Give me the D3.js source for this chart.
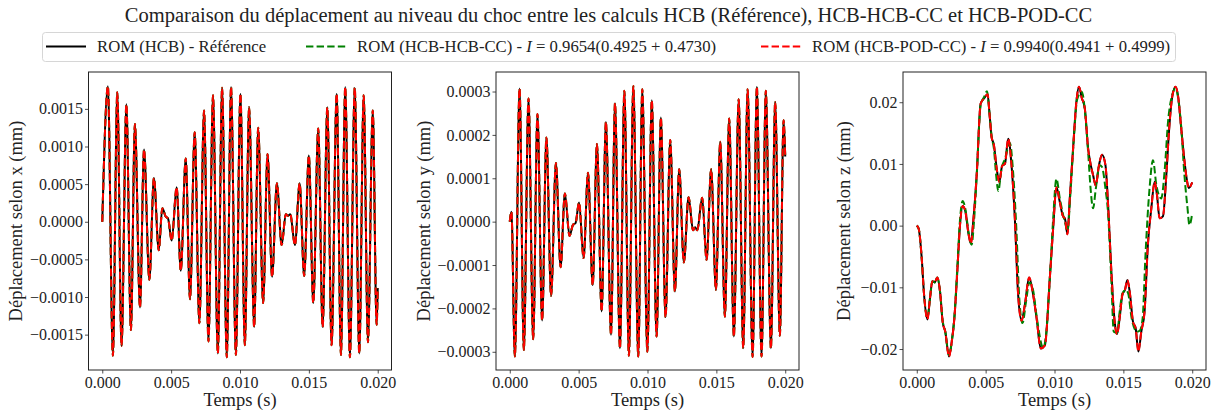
<!DOCTYPE html>
<html><head><meta charset="utf-8">
<script src="https://cdn.jsdelivr.net/npm/d3@7"></script>
<style>
html,body{margin:0;padding:0;background:#fff;}
svg text{font-family:"Liberation Serif","DejaVu Serif",serif;fill:#222;}
</style></head>
<body><svg id="c" width="1217" height="414"></svg>
<script>
// ---------- DATA ----------
const titleText = "Comparaison du déplacement au niveau du choc entre les calculs HCB (Référence), HCB-HCB-CC et HCB-POD-CC";
const seriesNames = ["ROM (HCB) - Référence", "ROM (HCB-HCB-CC) - ", "ROM (HCB-POD-CC) - "];
const seriesIndex = ["", " = 0.9654(0.4925 + 0.4730)", " = 0.9940(0.4941 + 0.4999)"];
const xTickValues = [0, 0.005, 0.010, 0.015, 0.020];
const yTicksX = [-0.0015, -0.0010, -0.0005, 0, 0.0005, 0.0010, 0.0015];
const yTicksY = [-0.0003, -0.0002, -0.0001, 0, 0.0001, 0.0002, 0.0003];
const yTicksZ = [-0.02, -0.01, 0, 0.01, 0.02];
const yLabels = ["Déplacement selon x (mm)", "Déplacement selon y (mm)", "Déplacement selon z (mm)"];

// displacement x : [time (s), value (mm)]
const dispX = [
[0,0],[0.00041,0.00180],[0.00077,-0.00178],[0.00109,0.00172],[0.00140,-0.00165],[0.00175,0.00156],
[0.00208,-0.00144],[0.00237,0.00130],[0.00274,-0.00114],[0.00303,0.00096],[0.00342,-0.00077],
[0.00375,0.00058],[0.00410,-0.00038],[0.00436,0.00018],[0.00460,0.00007],[0.00478,0.00004],
[0.00504,-0.00025],[0.00540,0.00046],[0.00570,-0.00065],[0.00606,0.00084],[0.00637,-0.00103],
[0.00671,0.00119],[0.00705,-0.00135],[0.00739,0.00148],[0.00771,-0.00159],[0.00804,0.00168],
[0.00839,-0.00175],[0.00870,0.00178],[0.00904,-0.00180],[0.00935,0.00179],[0.00970,-0.00177],
[0.01003,0.00170],[0.01035,-0.00164],[0.01066,0.00152],[0.01103,-0.00140],[0.01132,0.00125],
[0.01168,-0.00108],[0.01200,0.00090],[0.01233,-0.00073],[0.01268,0.00051],[0.01302,-0.00031],
[0.01333,0.00010],[0.01349,0.00008],[0.01365,0.00010],[0.01399,-0.00031],[0.01433,0.00051],
[0.01466,-0.00072],[0.01500,0.00088],[0.01532,-0.00108],[0.01568,0.00124],[0.01600,-0.00140],
[0.01634,0.00152],[0.01665,-0.00164],[0.01702,0.00170],[0.01733,-0.00177],[0.01764,0.00179],
[0.01798,-0.00180],[0.01833,0.00178],[0.01866,-0.00175],[0.01898,0.00168],[0.01929,-0.00160],
[0.01964,0.00148],[0.01992,-0.00137],[0.02000,-0.00088]];

// displacement y
const dispY = [
[0,0],[0.00012,0.000023],[0.00037,-0.000311],[0.00071,0.000307],[0.00102,-0.000296],[0.00136,0.000284],
[0.00170,-0.000271],[0.00201,0.000248],[0.00235,-0.000228],[0.00266,0.000194],[0.00300,-0.000171],
[0.00335,0.000135],[0.00369,-0.000105],[0.00400,0.000065],[0.00434,-0.000033],[0.00458,-0.000008],
[0.00478,-0.000003],[0.00503,0.000044],[0.00536,-0.000084],[0.00568,0.000113],[0.00602,-0.000146],
[0.00633,0.000179],[0.00667,-0.000207],[0.00698,0.000230],[0.00735,-0.000261],[0.00764,0.000273],
[0.00800,-0.000292],[0.00832,0.000302],[0.00865,-0.000309],[0.00897,0.000313],[0.00933,-0.000311],
[0.00962,0.000305],[0.00999,-0.000300],[0.01031,0.000280],[0.01066,-0.000265],[0.01097,0.000240],
[0.01131,-0.000220],[0.01165,0.000188],[0.01199,-0.000161],[0.01230,0.000121],[0.01264,-0.000094],
[0.01298,0.000056],[0.01331,-0.000020],[0.01346,-0.000013],[0.01361,-0.000020],[0.01397,0.000055],
[0.01429,-0.000088],[0.01462,0.000121],[0.01497,-0.000157],[0.01528,0.000184],[0.01562,-0.000219],
[0.01593,0.000238],[0.01627,-0.000265],[0.01662,0.000282],[0.01695,-0.000292],[0.01727,0.000305],
[0.01763,-0.000312],[0.01794,0.000311],[0.01828,-0.000311],[0.01859,0.000302],[0.01896,-0.000292],
[0.01927,0.000276],[0.01961,-0.000263],[0.01988,0.000234],[0.02000,0.000150]];

// displacement z, reference (HCB) and HCB-POD-CC
const dispZRef = [
[0,0],[0.00014,-0.0005],[0.00036,-0.0053],[0.00053,-0.0112],[0.00077,-0.0152],[0.00096,-0.0118],
[0.00113,-0.0090],[0.00130,-0.0092],[0.00149,-0.0084],[0.00169,-0.0107],[0.00188,-0.0156],
[0.00207,-0.0172],[0.00234,-0.0212],[0.00254,-0.0188],[0.00273,-0.0150],[0.00294,-0.0075],
[0.00314,0.0001],[0.00333,0.0032],[0.00352,0.0024],[0.00377,-0.0015],[0.00393,-0.0029],
[0.00410,0.0007],[0.00435,0.0082],[0.00464,0.0198],[0.00488,0.0206],[0.00514,0.0213],
[0.00529,0.0179],[0.00543,0.0144],[0.00560,0.0131],[0.00580,0.0093],[0.00599,0.0071],
[0.00620,0.0097],[0.00640,0.0100],[0.00664,0.0141],[0.00688,0.0098],[0.00712,0.0012],
[0.00736,-0.0112],[0.00761,-0.0154],[0.00785,-0.0128],[0.00816,-0.0084],[0.00845,-0.0112],
[0.00870,-0.0150],[0.00900,-0.0199],[0.00930,-0.0194],[0.00966,-0.0085],[0.00990,-0.0005],
[0.01014,0.0062],[0.01038,0.0039],[0.01060,0.0016],[0.01076,0.0011],[0.01094,-0.0014],
[0.01111,0.0044],[0.01135,0.0125],[0.01159,0.0201],[0.01178,0.0225],[0.01198,0.0207],
[0.01220,0.0190],[0.01244,0.0125],[0.01261,0.0101],[0.01280,0.0082],[0.01299,0.0065],
[0.01323,0.0098],[0.01345,0.0115],[0.01370,0.0098],[0.01389,0.0034],[0.01413,-0.0075],
[0.01437,-0.0156],[0.01454,-0.0176],[0.01473,-0.0150],[0.01493,-0.0112],[0.01512,-0.0104],
[0.01529,-0.0088],[0.01546,-0.0107],[0.01570,-0.0156],[0.01589,-0.0166],[0.01609,-0.0204],
[0.01630,-0.0172],[0.01654,-0.0139],[0.01678,-0.0031],[0.01703,0.0028],[0.01727,0.0071],
[0.01744,0.0050],[0.01763,0.0012],[0.01787,0.0015],[0.01812,0.0082],[0.01831,0.0152],
[0.01855,0.0209],[0.01879,0.0225],[0.01899,0.0207],[0.01920,0.0158],[0.01944,0.0104],
[0.01961,0.0074],[0.01975,0.0061],[0.02000,0.0070]];

// displacement z, HCB-HCB-CC
const dispZHcb = [
[0,0],[0.00014,-0.0005],[0.00036,-0.0053],[0.00053,-0.0112],[0.00077,-0.0150],[0.00096,-0.0118],
[0.00113,-0.0090],[0.00130,-0.0092],[0.00149,-0.0084],[0.00169,-0.0107],[0.00188,-0.0154],
[0.00207,-0.0172],[0.00234,-0.0210],[0.00254,-0.0188],[0.00273,-0.0148],[0.00294,-0.0070],
[0.00314,0.0010],[0.00333,0.0040],[0.00352,0.0028],[0.00377,-0.0012],[0.00398,-0.0031],
[0.00415,0.0005],[0.00435,0.0080],[0.00464,0.0196],[0.00488,0.0208],[0.00510,0.0218],
[0.00527,0.0185],[0.00543,0.0145],[0.00560,0.0125],[0.00577,0.0080],[0.00592,0.0056],
[0.00615,0.0092],[0.00640,0.0108],[0.00676,0.0134],[0.00700,0.0085],[0.00722,0.0000],
[0.00745,-0.0120],[0.00768,-0.0158],[0.00792,-0.0125],[0.00818,-0.0092],[0.00845,-0.0105],
[0.00872,-0.0150],[0.00918,-0.0198],[0.00940,-0.0175],[0.00970,-0.0070],[0.00990,0.0010],
[0.01014,0.0076],[0.01038,0.0045],[0.01060,0.0020],[0.01080,0.0002],[0.01094,-0.0008],
[0.01116,0.0053],[0.01140,0.0140],[0.01165,0.0205],[0.01198,0.0217],[0.01220,0.0188],
[0.01244,0.0120],[0.01262,0.0060],[0.01280,0.0028],[0.01300,0.0060],[0.01328,0.0098],
[0.01345,0.0095],[0.01370,0.0060],[0.01389,0.0020],[0.01413,-0.0090],[0.01430,-0.0172],
[0.01454,-0.0174],[0.01473,-0.0140],[0.01493,-0.0110],[0.01517,-0.0104],[0.01535,-0.0110],
[0.01560,-0.0150],[0.01599,-0.0172],[0.01620,-0.0170],[0.01640,-0.0150],[0.01660,-0.0050],
[0.01690,0.0060],[0.01715,0.0106],[0.01740,0.0065],[0.01775,0.0044],[0.01800,0.0090],
[0.01825,0.0170],[0.01855,0.0212],[0.01879,0.0223],[0.01899,0.0205],[0.01920,0.0160],
[0.01944,0.0080],[0.01965,0.0030],[0.01980,0.0001],[0.02000,0.0020]];

// ---------- DRAWING ----------
const svg = d3.select("#c");
const colors = ["#000000", "#008000", "#ff0000"];
const dash = [null, "7.4,3.2", "7.4,3.2"];

svg.append("text").attr("x", 608.5).attr("y", 22).attr("text-anchor", "middle")
  .style("font-size", "20.5px").text(titleText);

// legend
const lg = svg.append("g");
lg.append("rect").attr("x", 42.5).attr("y", 32.5).attr("width", 1133).attr("height", 29)
  .attr("rx", 3).attr("fill", "#fff").attr("stroke", "#d6d6d6");
const legX = [46, 306, 761];
seriesNames.forEach((n, i) => {
  lg.append("line").attr("x1", legX[i]).attr("x2", legX[i] + 40).attr("y1", 46.5).attr("y2", 46.5)
    .attr("stroke", colors[i]).attr("stroke-width", 2).attr("stroke-dasharray", dash[i]);
  const t = lg.append("text").attr("x", legX[i] + 51).attr("y", 52).style("font-size", "16.7px");
  t.append("tspan").text(n);
  if (seriesIndex[i]) {
    t.append("tspan").style("font-style", "italic").text("I");
    t.append("tspan").text(seriesIndex[i]);
  }
});

const panels = [
  {left: 88.5, data: [dispX, dispX, dispX], dom: [-0.00197, 0.00199], ticks: yTicksX, fmt: d3.format(".4f"), lab: yLabels[0], labX: 17},
  {left: 496, data: [dispY, dispY, dispY], dom: [-0.000342, 0.000345], ticks: yTicksY, fmt: d3.format(".4f"), lab: yLabels[1], labX: 425},
  {left: 903, data: [dispZRef, dispZHcb, dispZRef], dom: [-0.0234, 0.0249], ticks: yTicksZ, fmt: d3.format(".2f"), lab: yLabels[2], labX: 845}
];
const W = 303, plotTop = 72, plotBottom = 370;
const minus = s => s.replace("-", "\u2212");

panels.forEach(p => {
  const g = svg.append("g");
  const x = d3.scaleLinear().domain([-0.001, 0.021]).range([p.left, p.left + W]);
  const y = d3.scaleLinear().domain(p.dom).range([plotBottom, plotTop]);
  const line = d3.line().x(d => x(d[0])).y(d => y(d[1])).curve(d3.curveMonotoneX);
  p.data.forEach((dat, i) => {
    g.append("path").datum(dat).attr("d", line).attr("fill", "none")
      .attr("stroke", colors[i]).attr("stroke-width", 2)
      .attr("stroke-dasharray", dash[i]).attr("stroke-linejoin", "round");
  });
  const xa = g.append("g").attr("transform", `translate(0,${plotBottom})`)
    .call(d3.axisBottom(x).tickValues(xTickValues).tickFormat(d3.format(".3f")).tickSizeOuter(0).tickSize(3.5));
  const ya = g.append("g").attr("transform", `translate(${p.left},0)`)
    .call(d3.axisLeft(y).tickValues(p.ticks).tickFormat(d => minus(p.fmt(d))).tickSizeOuter(0).tickSize(3.5));
  [xa, ya].forEach(a => {
    a.select(".domain").remove();
    a.selectAll("line").attr("stroke", "#222").attr("stroke-width", 0.8);
    a.selectAll("text").style("font-size", "16px").attr("fill", "#222")
      .style("font-family", '"Liberation Serif","DejaVu Serif",serif');
  });
  xa.selectAll("text").attr("dy", "0.75em").attr("y", 6);
  ya.selectAll("text").attr("x", -5.5);
  g.append("rect").attr("x", p.left).attr("y", plotTop).attr("width", W).attr("height", plotBottom - plotTop)
    .attr("fill", "none").attr("stroke", "#222").attr("stroke-width", 1);
  g.append("text").attr("x", p.left + W / 2).attr("y", 406).attr("text-anchor", "middle")
    .style("font-size", "18.5px").text("Temps (s)");
  g.append("text").attr("transform", `translate(${p.labX + 5},${(plotTop + plotBottom) / 2}) rotate(-90)`)
    .attr("text-anchor", "middle").style("font-size", "18.5px").text(p.lab);
});
</script></body></html>
